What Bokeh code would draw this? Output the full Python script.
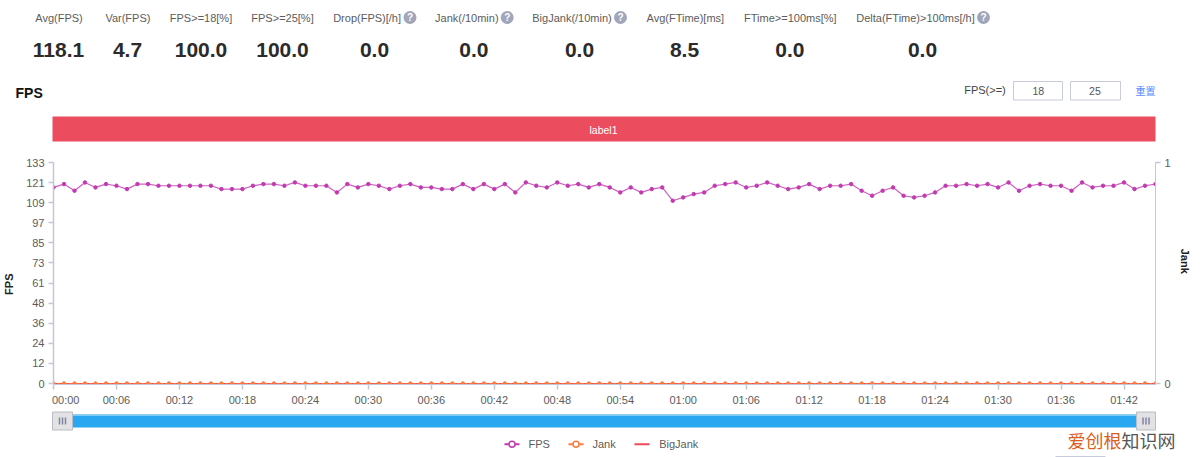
from bokeh.plotting import figure
from bokeh.layouts import column, row
from bokeh.models import Range1d, LinearAxis, FixedTicker
from bokeh.core.properties import value
from bokeh.embed import file_html
from bokeh.resources import INLINE

stat_names = ["Avg(FPS)", "Var(FPS)", "FPS>=18[%]", "FPS>=25[%]", "Drop(FPS)[/h]", "Jank(/10min)",
              "BigJank(/10min)", "Avg(FTime)[ms]", "FTime>=100ms[%]", "Delta(FTime)>100ms[/h]"]
stat_values = ["118.1", "4.7", "100.0", "100.0", "0.0", "0.0", "0.0", "8.5", "0.0", "0.0"]
fps = [118, 120, 116, 121, 118, 120, 119, 117, 120, 120,
       119, 119, 119, 119, 119, 119, 117, 117, 117, 119,
       120, 120, 119, 121, 119, 119, 119, 115, 120, 118,
       120, 119, 117, 119, 120, 118, 118, 117, 117, 120,
       117, 120, 117, 120, 115, 121, 119, 118, 121, 119,
       120, 118, 120, 118, 115, 118, 115, 117, 118, 110,
       112, 114, 115, 119, 120, 121, 118, 119, 121, 119,
       117, 118, 120, 117, 119, 119, 120, 116, 113, 116,
       118, 113, 112, 113, 115, 119, 119, 120, 119, 120,
       118, 121, 116, 119, 120, 119, 119, 116, 121, 118,
       119, 119, 121, 117, 119, 120]
jank = [0] * len(fps)
bigjank = [0] * len(fps)
x_idx = list(range(len(fps)))
x_ticks = [0, 6, 12, 18, 24, 30, 36, 42, 48, 54, 60, 66, 72, 78, 84, 90, 96, 102]
x_labels = ["00:00", "00:06", "00:12", "00:18", "00:24", "00:30", "00:36", "00:42", "00:48", "00:54",
            "01:00", "01:06", "01:12", "01:18", "01:24", "01:30", "01:36", "01:42"]
y_ticks = [0, 12.09, 24.18, 36.27, 48.36, 60.45, 72.55, 84.64, 96.73, 108.82, 120.91, 133]
y_labels = ["0", "12", "24", "36", "48", "61", "73", "85", "97", "109", "121", "133"]

SANS = "Liberation Sans"
GREY = "#5c5c5c"
AXIS = "#c3c7d6"
NBSP = "\u00a0"
C_FPS, C_JANK, C_BIG = "#c23ab0", "#ff7a3c", "#ee4a5a"


def canvas(y_top, y_bottom):
    f = figure(width=1200, height=y_bottom - y_top, x_range=Range1d(0, 1200), y_range=Range1d(y_bottom, y_top),
               x_axis_type=None, y_axis_type=None, toolbar_location=None, output_backend="svg",
               min_border=0, outline_line_color=None)
    f.grid.visible = False
    return f


def txt(f, x, y, s, size="11px", color=GREY, align="center", font=SANS, style="normal"):
    f.text([x], [y], text=[s], text_font=value(font), text_font_size=size, text_color=color,
           text_align=align, text_baseline="middle", text_font_style=style)


# ---------- header ----------
head = canvas(0, 154)
label_x = [58.5, 127.4, 200.5, 282, 366.6, 466.3, 571.5, 684.8, 789.8, 915]
value_x = [58, 127, 200.5, 282, 374, 473.4, 579, 684, 789.4, 922]
for x, s in zip(label_x, stat_names):
    txt(head, x, 17, s, "11px")
for x, s in zip(value_x, stat_values):
    txt(head, x, 49.5, s, "21px", "#2b2b2b", style="bold")
for x in [409.5, 506.7, 620, 983]:
    head.scatter([x], [17], size=13, color="#a1a6bb", line_color=None)
    txt(head, x, 17, "?", "10px", "#ffffff", style="bold")
txt(head, 15, 92, "FPS", "14px", "#111111", align="left", style="bold")
txt(head, 984.5, 89, "FPS(>=)", "11px", "#444444")
head.quad(left=[1013, 1070], right=[1062, 1120], top=[81, 81], bottom=[99.5, 99.5],
          fill_color="#ffffff", line_color="#c8cbdb", line_width=1)
txt(head, 1037.8, 90, "18", "10.5px", "#555555")
txt(head, 1094.4, 90, "25", "10.5px", "#555555")
txt(head, 1145, 89.5, "重置", "10px", "#5b8cff", font="Noto Sans CJK SC")
head.quad(left=[52], right=[1155], top=[116], bottom=[141], fill_color="#eb4d5e", line_color=None)
txt(head, 603, 129, "label1", "10.5px", "#ffffff")

# ---------- main chart ----------
BELOW = 133 / 223  # one pixel of room under the zero line
p = figure(width=1200, height=254, toolbar_location=None, output_backend="svg",
           x_range=Range1d(0, 105), y_range=Range1d(-BELOW, 133),
           min_border_left=52, min_border_right=45, min_border_top=8, min_border_bottom=22,
           outline_line_color=None)
p.grid.visible = False
p.extra_y_ranges = {"jank": Range1d(-BELOW / 133, 1)}


def style_axis(a):
    a.axis_line_color = AXIS
    a.axis_line_width = 1.5
    a.major_tick_line_color = AXIS
    a.major_tick_line_width = 1.5
    a.major_tick_in = 0
    a.major_tick_out = 5
    a.minor_tick_line_color = None
    a.major_label_text_font = SANS
    a.major_label_text_font_size = "11px"
    a.major_label_text_color = GREY
    a.major_label_standoff = 4
    a.axis_label_text_font = SANS
    a.axis_label_text_font_size = "11px"
    a.axis_label_text_font_style = "bold"
    a.axis_label_text_color = "#222222"


xa = p.xaxis[0]
style_axis(xa)
xa.axis_line_width = 1
xa.ticker = FixedTicker(ticks=x_ticks)
# the first label sits to the right of its tick, as in the reference
xa.major_label_overrides = {t: (NBSP * 8 + s if t == 0 else s) for t, s in zip(x_ticks, x_labels)}

ya = p.yaxis[0]
style_axis(ya)
ya.bounds = (0, 133)
ya.ticker = FixedTicker(ticks=y_ticks)
ya.major_label_overrides = dict(zip(y_ticks, y_labels))
ya.axis_label = "FPS" + NBSP * 7
ya.axis_label_standoff = 8

ra = LinearAxis(y_range_name="jank", ticker=FixedTicker(ticks=[0, 1]))
style_axis(ra)
ra.axis_line_width = 1
ra.bounds = (0, 1)
ra.axis_label = "Jank" + NBSP * 8
ra.axis_label_standoff = 5
p.add_layout(ra, "right")

p.line(x_idx, bigjank, y_range_name="jank", color=C_BIG, line_width=1)
p.line(x_idx, jank, y_range_name="jank", color=C_JANK, line_width=1, line_dash="2 2")
p.scatter(x_idx, jank, y_range_name="jank", size=3.5, color=C_JANK)
p.line(x_idx, fps, color=C_FPS, line_width=1.2, line_alpha=0.8)
p.scatter(x_idx, fps, size=3.5, color=C_FPS)

# ---------- slider + legend ----------
foot = canvas(408, 457)
foot.quad(left=[62], right=[1146], top=[414], bottom=[427], fill_color="#29a7f1", line_color=None)
foot.quad(left=[62], right=[1146], top=[414], bottom=[415.5], fill_color="#7fcaf5", line_color=None)
for l, r in [(52, 72), (1136, 1155)]:
    foot.quad(left=[l], right=[r], top=[411.5], bottom=[429.5], fill_color="#e2e2e4", line_color="#b9bcc4", line_width=1)
    c = (l + r) / 2
    foot.segment(x0=[c - 3, c, c + 3], y0=[417, 417, 417], x1=[c - 3, c, c + 3], y1=[424, 424, 424],
                 line_color="#7f86a0", line_width=1.5)

foot.line([504, 519], [443.7, 443.7], color=C_FPS, line_width=2)
foot.scatter([511.5], [443.7], size=6, fill_color="#ffffff", line_color=C_FPS, line_width=1.5)
txt(foot, 528, 443.5, "FPS", align="left")
foot.line([568, 583], [443.7, 443.7], color=C_JANK, line_width=2)
foot.scatter([575.5], [443.7], size=6, fill_color="#ffffff", line_color=C_JANK, line_width=1.5)
txt(foot, 592, 443.5, "Jank", align="left")
foot.line([634, 649], [443.7, 443.7], color=C_BIG, line_width=2)
txt(foot, 658.7, 443.5, "BigJank", align="left")
txt(foot, 1067, 439, "爱创根", "18px", "#d95f1e", align="left", font="Noto Sans CJK SC")
txt(foot, 1121, 439, "知识网", "18px", "#555555", align="left", font="Noto Sans CJK SC")
foot.line([1055, 1105], [456, 456], color="#c8cbdb", line_width=1)

page = column(row(head), p, row(foot), spacing=0)
open("out.html", "w").write(file_html(page, INLINE))
